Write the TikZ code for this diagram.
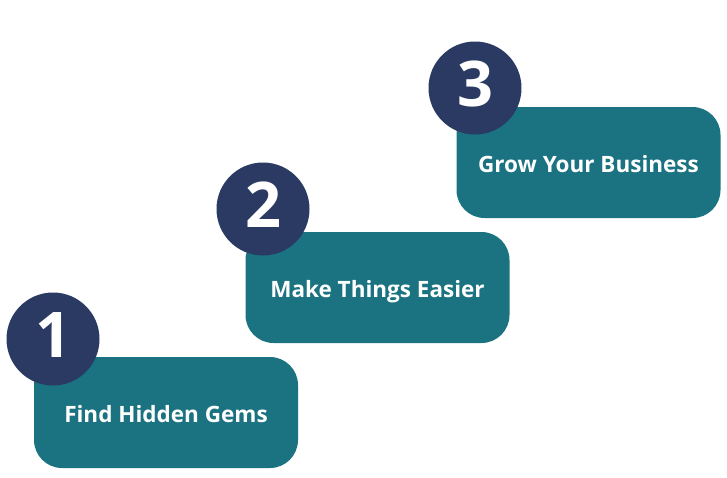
\documentclass[tikz,border=0pt]{standalone}
\usepackage{fontspec}
\setmainfont{Open Sans}
\definecolor{stepteal}{RGB}{27,115,130}
\definecolor{stepnavy}{RGB}{42,58,98}
\begin{document}
\begin{tikzpicture}[
  x=1pt, y=-1pt,
  box/.style={fill=stepteal, rounded corners=28pt, minimum width=264pt, minimum height=111pt, inner sep=0pt,
    text=white, text height=20pt, text depth=0pt, font=\bfseries\fontsize{22.5}{26}\selectfont},
  num/.style={circle, fill=stepnavy, minimum size=93pt, inner sep=0pt, text=white,
    text height=45pt, text depth=8pt, font=\bfseries\fontsize{63}{70}\selectfont}
]
\useasboundingbox (0,0) rectangle (727,477);
\node[box] (b1) at (166,412.5) {Find Hidden Gems};
\node[box] (b2) at (377.5,287.5) {Make Things Easier};
\node[box] (b3) at (588.5,162.5) {Grow Your Business};
\node[num] (n1) at (53,339) {1};
\node[num] (n2) at (263,209) {2};
\node[num] (n3) at (475,88) {3};
\end{tikzpicture}
\end{document}
